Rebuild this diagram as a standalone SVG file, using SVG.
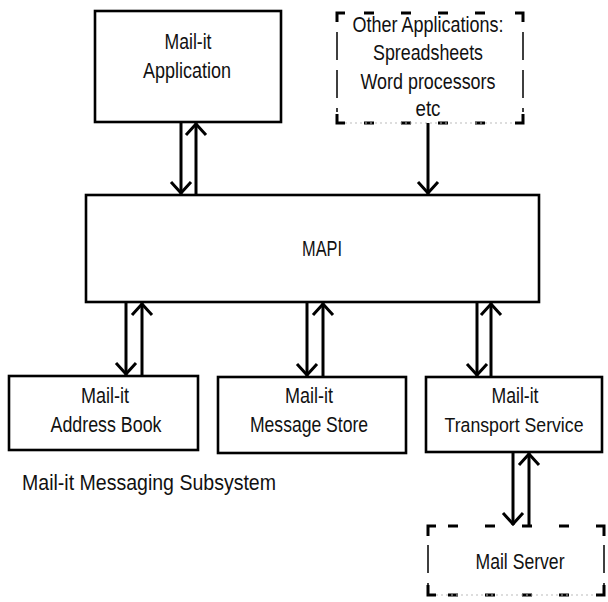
<svg xmlns="http://www.w3.org/2000/svg" width="608" height="602" viewBox="0 0 608 602">
  <style>
    .box { fill: #fff; stroke: #000; stroke-width: 2.6; }
    .lbl { font-family: "Liberation Sans", Arial, sans-serif; font-size: 22px; fill: #111; text-anchor: middle; }
    .wire { stroke: #000; stroke-width: 3; fill: none; }
    .dash-h { stroke: #000; stroke-width: 3; stroke-dasharray: 10 27; fill: none; }
    .dash-v { stroke: #000; stroke-width: 1.5; stroke-dasharray: 28 10; fill: none; }
    .haze { stroke: #bbb; stroke-width: 1; stroke-dasharray: 2 3; fill: none; }
    .corner { stroke: #000; stroke-width: 3; fill: none; }
  </style>
  <defs>
    <marker id="head" markerUnits="userSpaceOnUse" viewBox="-14 -13 16 26" markerWidth="16" markerHeight="26" refX="1" refY="0" orient="auto">
      <path d="M-11,-10 L0,0 L-11,10" fill="none" stroke="#000" stroke-width="3"/>
    </marker>
  </defs>

  <rect width="608" height="602" fill="#fff"/>

  <!-- Mail-it client application -->
  <g id="app">
    <rect class="box" x="95" y="11" width="186" height="111"/>
    <text class="lbl" x="188" y="49" textLength="47" lengthAdjust="spacingAndGlyphs">Mail-it</text>
    <text class="lbl" x="187" y="78" textLength="88" lengthAdjust="spacingAndGlyphs">Application</text>
  </g>

  <!-- other MAPI clients (dashed) -->
  <g id="other-apps">
    <rect x="337" y="13" width="186" height="110" fill="#fff"/>
    <line class="dash-h" x1="350" y1="13" x2="512" y2="13" stroke-dashoffset="-14"/>
    <line class="dash-h" x1="350" y1="123" x2="512" y2="123" stroke-dashoffset="-14"/>
    <line class="haze" x1="345" y1="123" x2="520" y2="123"/>
    <line class="dash-v" x1="337" y1="32" x2="337" y2="112"/>
    <line class="dash-v" x1="523" y1="32" x2="523" y2="112"/>
    <path class="corner" d="M337,22 V13 H345 M515,13 H523 V22 M337,114 V123 H345 M515,123 H523 V114"/>
    <text class="lbl" x="428" y="32" textLength="151" lengthAdjust="spacingAndGlyphs">Other Applications:</text>
    <text class="lbl" x="428" y="60" textLength="110" lengthAdjust="spacingAndGlyphs">Spreadsheets</text>
    <text class="lbl" x="428" y="89" textLength="135" lengthAdjust="spacingAndGlyphs">Word processors</text>
    <text class="lbl" x="428" y="116" textLength="25" lengthAdjust="spacingAndGlyphs">etc</text>
  </g>

  <!-- MAPI layer -->
  <g id="mapi">
    <rect class="box" x="86" y="195" width="453" height="107"/>
    <text class="lbl" x="322" y="256" textLength="40" lengthAdjust="spacingAndGlyphs">MAPI</text>
  </g>

  <!-- service providers -->
  <g id="address-book">
    <rect class="box" x="9" y="376" width="189" height="74"/>
    <text class="lbl" x="105" y="403" textLength="48" lengthAdjust="spacingAndGlyphs">Mail-it</text>
    <text class="lbl" x="106" y="432" textLength="111" lengthAdjust="spacingAndGlyphs">Address Book</text>
  </g>

  <g id="message-store">
    <rect class="box" x="218" y="377" width="188" height="76"/>
    <text class="lbl" x="309" y="403" textLength="48" lengthAdjust="spacingAndGlyphs">Mail-it</text>
    <text class="lbl" x="309" y="432" textLength="118" lengthAdjust="spacingAndGlyphs">Message Store</text>
  </g>

  <g id="transport">
    <rect class="box" x="426" y="377" width="176" height="75"/>
    <text class="lbl" x="515" y="403" textLength="47" lengthAdjust="spacingAndGlyphs">Mail-it</text>
    <text class="lbl" x="514" y="432" style="font-size:20.5px" textLength="139" lengthAdjust="spacingAndGlyphs">Transport Service</text>
  </g>

  <!-- external mail server (dashed) -->
  <g id="mail-server">
    <rect x="428" y="526" width="176" height="69" fill="#fff"/>
    <line class="dash-h" x1="448" y1="526" x2="596" y2="526"/>
    <line class="dash-h" x1="448" y1="595" x2="596" y2="595"/>
    <line class="haze" x1="436" y1="595" x2="600" y2="595"/>
    <line class="dash-v" x1="428" y1="545" x2="428" y2="586"/>
    <line class="dash-v" x1="604" y1="545" x2="604" y2="586"/>
    <path class="corner" d="M428,536 V526 H436 M596,526 H604 V536 M428,585 V595 H436 M596,595 H604 V585"/>
    <text class="lbl" x="520" y="569" textLength="89" lengthAdjust="spacingAndGlyphs">Mail Server</text>
  </g>

  <!-- subsystem caption -->
  <g id="subsystem-caption">
    <text class="lbl" x="22" y="490" style="text-anchor:start" textLength="254" lengthAdjust="spacingAndGlyphs">Mail-it Messaging Subsystem</text>
  </g>

  <!-- connectors: paired call/return arrows -->
  <g id="connectors">
    <line class="wire" x1="181" y1="122" x2="181" y2="194" marker-end="url(#head)"/>
    <line class="wire" x1="196" y1="195" x2="196" y2="123" marker-end="url(#head)"/>
    <line class="wire" x1="428" y1="123" x2="428" y2="194" marker-end="url(#head)"/>

    <line class="wire" x1="126" y1="302" x2="126" y2="375" marker-end="url(#head)"/>
    <line class="wire" x1="142" y1="376" x2="142" y2="303" marker-end="url(#head)"/>

    <line class="wire" x1="307" y1="302" x2="307" y2="376" marker-end="url(#head)"/>
    <line class="wire" x1="323" y1="377" x2="323" y2="303" marker-end="url(#head)"/>

    <line class="wire" x1="477" y1="302" x2="477" y2="376" marker-end="url(#head)"/>
    <line class="wire" x1="491" y1="377" x2="491" y2="303" marker-end="url(#head)"/>

    <line class="wire" x1="513" y1="452" x2="513" y2="525" marker-end="url(#head)"/>
    <line class="wire" x1="529" y1="526" x2="529" y2="453" marker-end="url(#head)"/>
  </g>
</svg>
